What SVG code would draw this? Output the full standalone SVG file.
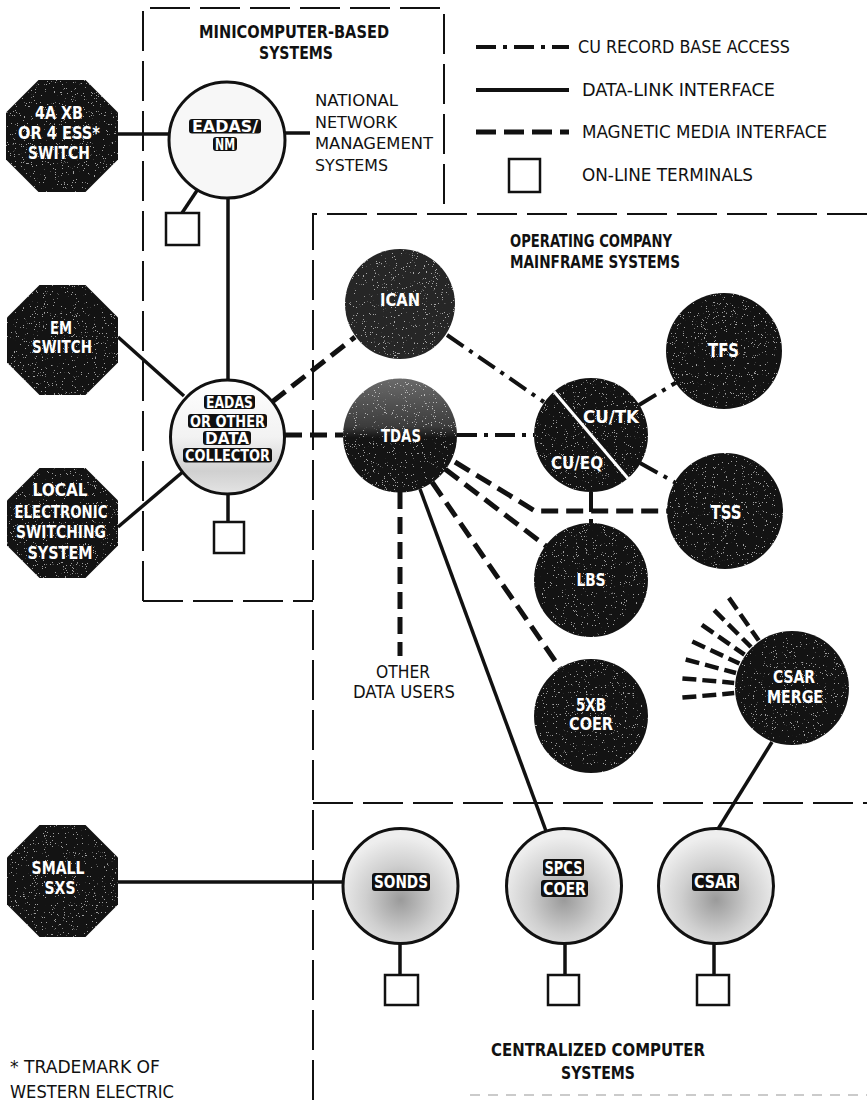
<svg xmlns="http://www.w3.org/2000/svg" width="867" height="1103" viewBox="0 0 867 1103">
  <defs>
    <style>
      .box { fill: none; stroke: #111; stroke-width: 2; stroke-dasharray: 40 10; }
      .dl { fill: none; stroke: #111; stroke-width: 3.5; }
      .cu { fill: none; stroke: #111; stroke-width: 4; stroke-dasharray: 20 7 4 7; }
      .mm { fill: none; stroke: #111; stroke-width: 5; stroke-dasharray: 17 8; }
      .fan { fill: none; stroke: #111; stroke-width: 4.5; stroke-dasharray: 14 6; }
      .term { fill: #fff; stroke: #111; stroke-width: 2.5; }
      .dark { fill: #131313; filter: url(#grain); }
      .ring { stroke: #111; stroke-width: 3; }
      .tag { fill: #111; }
      text { font-family: "Liberation Sans Narrow", "DejaVu Sans Condensed", "Liberation Sans", sans-serif; }
      .w { fill: #fff; font-weight: 700; text-anchor: middle; font-size: 18px; }
      .t { fill: #fff; font-weight: 700; text-anchor: middle; font-size: 16.5px; }
      .h { fill: #111; font-weight: 700; text-anchor: middle; font-size: 17px; }
      .r { fill: #111; font-weight: 400; font-size: 17px; }
      .rc { fill: #111; font-weight: 400; font-size: 18px; text-anchor: middle; }
    </style>
    <!-- sparse white flecks over the dark halftone shapes -->
    <filter id="grain" x="0" y="0" width="1" height="1" color-interpolation-filters="sRGB">
      <feTurbulence type="fractalNoise" baseFrequency="0.9" numOctaves="2" seed="7" result="noise"/>
      <feColorMatrix in="noise" type="matrix" values="0 0 0 0 1  0 0 0 0 1  0 0 0 0 1  30 0 0 0 -20.6" result="flecks"/>
      <feComponentTransfer in="flecks" result="soft">
        <feFuncA type="linear" slope="0.6"/>
      </feComponentTransfer>
      <feComposite in="soft" in2="SourceGraphic" operator="in" result="clipped"/>
      <feMerge>
        <feMergeNode in="SourceGraphic"/>
        <feMergeNode in="clipped"/>
      </feMerge>
    </filter>
    <linearGradient id="tdasFill" x1="0" y1="0" x2="0" y2="1">
      <stop offset="0" stop-color="#6a6a6a"/>
      <stop offset="0.42" stop-color="#3c3c3c"/>
      <stop offset="0.52" stop-color="#141414"/>
      <stop offset="1" stop-color="#141414"/>
    </linearGradient>
    <linearGradient id="collFill" x1="0" y1="0" x2="0" y2="1">
      <stop offset="0" stop-color="#ffffff"/>
      <stop offset="0.5" stop-color="#f2f2f2"/>
      <stop offset="0.8" stop-color="#d0d0d0"/>
      <stop offset="1" stop-color="#e4e4e4"/>
    </linearGradient>
    <radialGradient id="lightFill" cx="0.5" cy="0.62" r="0.55">
      <stop offset="0" stop-color="#9a9a9a"/>
      <stop offset="0.55" stop-color="#cfcfcf"/>
      <stop offset="1" stop-color="#eeeeee"/>
    </radialGradient>
  </defs>

  <rect width="867" height="1103" fill="#fff"/>

  <!-- system boundaries -->
  <g id="boundaries">
    <path class="box" d="M143,601 V8 H444 V213"/>
    <path class="box" d="M143,601 H313"/>
    <path class="box" d="M867,214 H313 V1103"/>
    <path class="box" d="M313,803 H867"/>
    <path d="M470,1095 H867" fill="none" stroke="#bbb" stroke-width="1.5" stroke-dasharray="10 8"/>
    <text class="h" x="294" y="38" textLength="190" lengthAdjust="spacingAndGlyphs">MINICOMPUTER-BASED</text>
    <text class="h" x="296" y="59" textLength="74" lengthAdjust="spacingAndGlyphs">SYSTEMS</text>
    <text class="h" x="510" y="247" style="text-anchor:start" textLength="162" lengthAdjust="spacingAndGlyphs">OPERATING COMPANY</text>
    <text class="h" x="510" y="268" style="text-anchor:start" textLength="170" lengthAdjust="spacingAndGlyphs">MAINFRAME SYSTEMS</text>
    <text class="h" x="598" y="1056" textLength="214" lengthAdjust="spacingAndGlyphs">CENTRALIZED COMPUTER</text>
    <text class="h" x="598" y="1079" textLength="74" lengthAdjust="spacingAndGlyphs">SYSTEMS</text>
  </g>

  <!-- legend -->
  <g id="legend">
    <line class="cu" x1="476" y1="47" x2="569" y2="47"/>
    <text class="r" x="578" y="53" textLength="212" lengthAdjust="spacingAndGlyphs">CU RECORD BASE ACCESS</text>
    <line class="dl" x1="476" y1="90" x2="569" y2="90" style="stroke-width:4"/>
    <text class="r" x="582" y="96" textLength="193" lengthAdjust="spacingAndGlyphs">DATA-LINK INTERFACE</text>
    <line class="mm" x1="476" y1="132" x2="569" y2="132" style="stroke-dasharray:20 8"/>
    <text class="r" x="582" y="138" textLength="245" lengthAdjust="spacingAndGlyphs">MAGNETIC MEDIA INTERFACE</text>
    <rect class="term" x="509" y="159" width="31" height="33"/>
    <text class="r" x="582" y="181" textLength="171" lengthAdjust="spacingAndGlyphs">ON-LINE TERMINALS</text>
  </g>

  <!-- connectors -->
  <g id="connectors">
    <!-- data-link interfaces -->
    <line class="dl" x1="118" y1="134" x2="169" y2="134"/>
    <line class="dl" x1="284" y1="133" x2="310" y2="133"/>
    <line class="dl" x1="198" y1="189" x2="182" y2="213"/>
    <line class="dl" x1="228" y1="198" x2="228" y2="380"/>
    <line class="dl" x1="118" y1="337" x2="184" y2="396"/>
    <line class="dl" x1="118" y1="527" x2="185" y2="470"/>
    <line class="dl" x1="228" y1="494" x2="228" y2="522"/>
    <line class="dl" x1="420" y1="489" x2="546" y2="831"/>
    <line class="dl" x1="772" y1="742" x2="718" y2="829"/>
    <line class="dl" x1="118" y1="882" x2="343" y2="882"/>
    <line class="dl" x1="400" y1="943" x2="400" y2="975"/>
    <line class="dl" x1="565" y1="943" x2="565" y2="975"/>
    <line class="dl" x1="714" y1="943" x2="714" y2="975"/>
    <!-- CU record base access -->
    <line class="cu" x1="447" y1="335" x2="544" y2="402"/>
    <line class="cu" x1="457" y1="435" x2="534" y2="435"/>
    <line class="cu" x1="639" y1="405" x2="677" y2="382"/>
    <line class="cu" x1="640" y1="463" x2="676" y2="483"/>
    <line class="cu" x1="591" y1="492" x2="591" y2="523"/>
    <!-- magnetic media interfaces -->
    <line class="mm" x1="272" y1="402" x2="355" y2="337"/>
    <line class="mm" x1="285" y1="435" x2="343" y2="435"/>
    <polyline class="mm" points="455,462 535,511 668,511"/>
    <line class="mm" x1="445" y1="469" x2="546" y2="546"/>
    <line class="mm" x1="432" y1="482" x2="560" y2="668"/>
    <line class="mm" x1="400" y1="492" x2="400" y2="656"/>
    <!-- tapes feeding CSAR MERGE -->
    <line class="fan" x1="682.4" y1="697.6" x2="734.2" y2="693.1"/>
    <line class="fan" x1="682.4" y1="678.4" x2="734.2" y2="682.9"/>
    <line class="fan" x1="685.7" y1="659.5" x2="736" y2="673"/>
    <line class="fan" x1="692.3" y1="641.5" x2="739.4" y2="663.5"/>
    <line class="fan" x1="701.9" y1="624.9" x2="744.5" y2="654.7"/>
    <line class="fan" x1="714.2" y1="610.2" x2="751" y2="647"/>
    <line class="fan" x1="728.9" y1="597.9" x2="758.7" y2="640.5"/>
  </g>

  <!-- switching offices -->
  <g id="sw-4axb">
    <polygon class="dark" points="38.5,80 85.5,80 118,112.5 118,159.5 85.5,192 38.5,192 6,159.5 6,112.5"/>
    <text class="w" x="59" y="119" textLength="48" lengthAdjust="spacingAndGlyphs">4A XB</text>
    <text class="w" x="59" y="139" textLength="82" lengthAdjust="spacingAndGlyphs">OR 4 ESS*</text>
    <text class="w" x="59" y="159" textLength="62" lengthAdjust="spacingAndGlyphs">SWITCH</text>
  </g>
  <g id="sw-em">
    <polygon class="dark" points="39.5,285 85.5,285 118,317.5 118,362.5 85.5,395 39.5,395 7,362.5 7,317.5"/>
    <text class="w" x="61" y="334" textLength="22" lengthAdjust="spacingAndGlyphs">EM</text>
    <text class="w" x="62" y="353" textLength="60" lengthAdjust="spacingAndGlyphs">SWITCH</text>
  </g>
  <g id="sw-local">
    <polygon class="dark" points="39.5,468 85.5,468 118,500.5 118,545.5 85.5,578 39.5,578 7,545.5 7,500.5"/>
    <text class="w" x="60" y="496" textLength="55" lengthAdjust="spacingAndGlyphs">LOCAL</text>
    <text class="w" x="61" y="518" textLength="93" lengthAdjust="spacingAndGlyphs">ELECTRONIC</text>
    <text class="w" x="61" y="538" textLength="90" lengthAdjust="spacingAndGlyphs">SWITCHING</text>
    <text class="w" x="60" y="559" textLength="65" lengthAdjust="spacingAndGlyphs">SYSTEM</text>
  </g>
  <g id="sw-small-sxs">
    <polygon class="dark" points="39.5,825 85.5,825 118,857.5 118,904.5 85.5,937 39.5,937 7,904.5 7,857.5"/>
    <text class="w" x="58" y="874" textLength="53" lengthAdjust="spacingAndGlyphs" style="font-size:17px">SMALL</text>
    <text class="w" x="60" y="894" textLength="31" lengthAdjust="spacingAndGlyphs" style="font-size:17px">SXS</text>
  </g>

  <!-- minicomputer-based systems -->
  <g id="eadas-nm">
    <circle class="ring" cx="227" cy="140" r="58" fill="#f7f7f7"/>
    <rect class="tag" x="189" y="119" width="72" height="14.5" rx="3"/>
    <text class="t" x="225" y="132" textLength="66" lengthAdjust="spacingAndGlyphs">EADAS/</text>
    <rect class="tag" x="213" y="137" width="24" height="14" rx="3"/>
    <text class="t" x="225" y="149.5" textLength="20" lengthAdjust="spacingAndGlyphs">NM</text>
    <rect class="term" x="166" y="213" width="33" height="32"/>
  </g>
  <g id="national-nms">
    <text class="r" x="315" y="106" textLength="83" lengthAdjust="spacingAndGlyphs" style="font-size:16px">NATIONAL</text>
    <text class="r" x="315" y="128" textLength="82" lengthAdjust="spacingAndGlyphs" style="font-size:16px">NETWORK</text>
    <text class="r" x="315" y="149" textLength="118" lengthAdjust="spacingAndGlyphs" style="font-size:16px">MANAGEMENT</text>
    <text class="r" x="315" y="171" textLength="73" lengthAdjust="spacingAndGlyphs" style="font-size:16px">SYSTEMS</text>
  </g>
  <g id="collector">
    <circle class="ring" cx="227.5" cy="437" r="57" fill="url(#collFill)"/>
    <rect class="tag" x="204" y="395" width="51" height="14" rx="3"/>
    <text class="t" x="229.5" y="408" textLength="47" lengthAdjust="spacingAndGlyphs">EADAS</text>
    <rect class="tag" x="188" y="414" width="79" height="14" rx="3"/>
    <text class="t" x="227.5" y="427" textLength="75" lengthAdjust="spacingAndGlyphs">OR OTHER</text>
    <rect class="tag" x="203" y="431" width="48" height="14" rx="3"/>
    <text class="t" x="227" y="444" textLength="44" lengthAdjust="spacingAndGlyphs">DATA</text>
    <rect class="tag" x="183" y="448" width="89" height="14.5" rx="3"/>
    <text class="t" x="227.5" y="461" textLength="85" lengthAdjust="spacingAndGlyphs">COLLECTOR</text>
    <rect class="term" x="214" y="522" width="30" height="31"/>
  </g>

  <!-- operating company mainframe systems -->
  <g id="ican">
    <circle cx="400" cy="304" r="55" fill="#262626" filter="url(#grain)"/>
    <text class="w" x="400" y="306" textLength="40" lengthAdjust="spacingAndGlyphs">ICAN</text>
  </g>
  <g id="tdas">
    <circle cx="400" cy="435.5" r="57" fill="url(#tdasFill)" filter="url(#grain)"/>
    <text class="w" x="401" y="441.5" textLength="40" lengthAdjust="spacingAndGlyphs">TDAS</text>
  </g>
  <g id="other-users">
    <text class="rc" x="403" y="678" textLength="54" lengthAdjust="spacingAndGlyphs">OTHER</text>
    <text class="rc" x="404" y="698" textLength="102" lengthAdjust="spacingAndGlyphs">DATA USERS</text>
  </g>
  <g id="cu">
    <circle class="dark" cx="591" cy="435" r="57"/>
    <line x1="554" y1="391.5" x2="628" y2="478.5" stroke="#fff" stroke-width="3"/>
    <text class="w" x="611" y="423" textLength="56" lengthAdjust="spacingAndGlyphs">CU/TK</text>
    <text class="w" x="577" y="469" textLength="52" lengthAdjust="spacingAndGlyphs">CU/EQ</text>
  </g>
  <g id="tfs">
    <circle class="dark" cx="724" cy="351" r="58"/>
    <text class="w" x="723.5" y="357" textLength="31" lengthAdjust="spacingAndGlyphs" style="font-size:19px">TFS</text>
  </g>
  <g id="tss">
    <circle class="dark" cx="725" cy="511" r="58"/>
    <text class="w" x="726" y="519" textLength="31" lengthAdjust="spacingAndGlyphs" style="font-size:19px">TSS</text>
  </g>
  <g id="lbs">
    <circle class="dark" cx="591" cy="580" r="57"/>
    <text class="w" x="591" y="586" textLength="29" lengthAdjust="spacingAndGlyphs">LBS</text>
  </g>
  <g id="coer-5xb">
    <circle class="dark" cx="591" cy="716" r="57"/>
    <text class="w" x="591" y="711" textLength="30" lengthAdjust="spacingAndGlyphs">5XB</text>
    <text class="w" x="591" y="730" textLength="44" lengthAdjust="spacingAndGlyphs">COER</text>
  </g>
  <g id="csar-merge">
    <circle class="dark" cx="792" cy="688" r="57"/>
    <text class="w" x="794" y="683" textLength="42" lengthAdjust="spacingAndGlyphs">CSAR</text>
    <text class="w" x="795" y="703" textLength="56" lengthAdjust="spacingAndGlyphs">MERGE</text>
  </g>

  <!-- centralized computer systems -->
  <g id="sonds">
    <circle class="ring" cx="400.5" cy="886" r="57.5" fill="url(#lightFill)"/>
    <rect class="tag" x="372" y="873" width="58" height="18" rx="3"/>
    <text class="t" x="401" y="888" textLength="54" lengthAdjust="spacingAndGlyphs" style="font-size:17px">SONDS</text>
    <rect class="term" x="385" y="975" width="33" height="30"/>
  </g>
  <g id="spcs-coer">
    <circle class="ring" cx="564" cy="886" r="57.5" fill="url(#lightFill)"/>
    <rect class="tag" x="543" y="859" width="41" height="17" rx="3"/>
    <text class="t" x="563.5" y="873.5" textLength="38" lengthAdjust="spacingAndGlyphs" style="font-size:17px">SPCS</text>
    <rect class="tag" x="541" y="880" width="47" height="17" rx="3"/>
    <text class="t" x="564.5" y="894.5" textLength="43" lengthAdjust="spacingAndGlyphs" style="font-size:17px">COER</text>
    <rect class="term" x="548" y="975" width="31" height="30"/>
  </g>
  <g id="csar">
    <circle class="ring" cx="716" cy="886" r="57.5" fill="url(#lightFill)"/>
    <rect class="tag" x="692" y="873" width="47" height="18" rx="3"/>
    <text class="t" x="715.5" y="888" textLength="43" lengthAdjust="spacingAndGlyphs" style="font-size:17px">CSAR</text>
    <rect class="term" x="697" y="975" width="32" height="30"/>
  </g>

  <!-- footnote -->
  <g id="footnote">
    <text class="r" x="10" y="1073" textLength="150" lengthAdjust="spacingAndGlyphs">* TRADEMARK OF</text>
    <text class="r" x="10" y="1098" textLength="164" lengthAdjust="spacingAndGlyphs">WESTERN ELECTRIC</text>
  </g>
</svg>
